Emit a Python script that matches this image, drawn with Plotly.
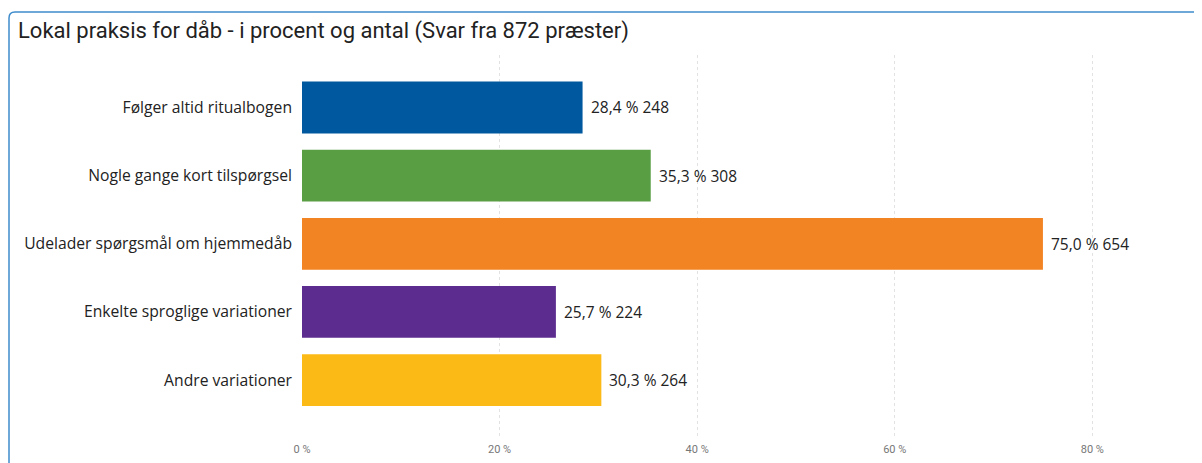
import plotly.graph_objects as go

categories = [
    "Følger altid ritualbogen",
    "Nogle gange kort tilspørgsel",
    "Udelader spørgsmål om hjemmedåb",
    "Enkelte sproglige variationer",
    "Andre variationer",
]
percents = [28.4, 35.3, 75.0, 25.7, 30.3]
counts = [248, 308, 654, 224, 264]
colors = ["#00589e", "#5a9e44", "#f28424", "#5c2d8f", "#fbba16"]
x_ticks = [0, 20, 40, 60, 80]
x_tick_labels = ["0 %", "20 %", "40 %", "60 %", "80 %"]
title_text = "Lokal praksis for dåb - i procent og antal (Svar fra 872 præster)"

labels = [f"{p:.1f}".replace(".", ",") + f" % {c}" for p, c in zip(percents, counts)]

fig = go.Figure()
fig.add_trace(go.Bar(
    x=percents, y=categories, orientation="h",
    marker=dict(color=colors, line=dict(width=0)),
    width=0.76, hoverinfo="skip",
))

for p, cat, lab in zip(percents, categories, labels):
    fig.add_annotation(x=p, y=cat, text=lab, showarrow=False, xanchor="left",
                       xshift=6, font=dict(family="Open Sans", size=15.5, color="#222"))

# frame border (pixel offsets from plot-area bottom-left)
fig.add_shape(type="path", xref="paper", yref="paper", xsizemode="pixel", ysizemode="pixel",
              xanchor=0, yanchor=0,
              path="M -293,-60 L -293,418 Q -293,424 -287,424 L 920,424",
              line=dict(color="#3f8ccc", width=1.5), layer="above")

fig.update_layout(
    width=1202, height=463,
    margin=dict(l=294, r=8, t=47, b=35),
    paper_bgcolor="white", plot_bgcolor="white",
    showlegend=False,
    title=dict(text=title_text, x=10/1202, xanchor="left", xref="container",
               y=1-22/463, yanchor="middle",
               font=dict(family="Roboto", size=22, color="#222")),
    xaxis=dict(range=[0, 91.1], tickvals=x_ticks, ticktext=x_tick_labels,
               showgrid=True, gridcolor="#e2e2e2", griddash="dot", gridwidth=1,
               zeroline=False, showline=False, ticks="",
               ticklabelstandoff=5,
               tickfont=dict(family="Roboto", size=11, color="#777")),
    yaxis=dict(categoryorder="array", categoryarray=categories, range=[4.82, -0.77],
               showgrid=False, zeroline=False, showline=False, ticks="",
               ticklabelstandoff=9,
               tickfont=dict(family="Open Sans", size=15.7, color="#222")),
)

fig.write_html("out.html")
